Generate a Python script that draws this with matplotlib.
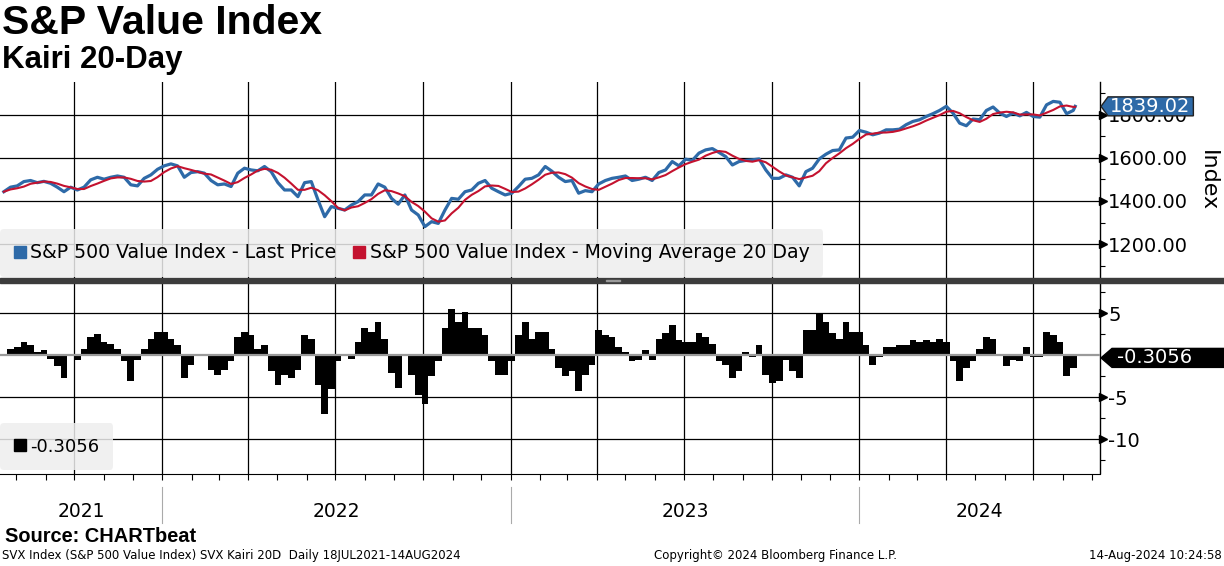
import matplotlib
matplotlib.use("Agg")
import matplotlib.pyplot as plt
import matplotlib.dates as mdates
import matplotlib.transforms as mtransforms
from matplotlib.path import Path
from matplotlib.lines import Line2D
from matplotlib.patches import Rectangle
import pandas as pd

plt.rcParams['font.family'] = 'DejaVu Sans'
plt.rcParams['axes.unicode_minus'] = False

# weekly readings (Mondays from 19 Jul 2021) + last close 14 Aug 2024
price = [1443, 1464, 1470, 1490, 1495, 1485, 1491, 1482, 1464, 1443,
         1464, 1451, 1464, 1498, 1510, 1501, 1510, 1516, 1510, 1475,
         1470, 1505, 1521, 1547, 1563, 1572, 1563, 1510, 1532, 1536,
         1529, 1495, 1475, 1479, 1467, 1529, 1552, 1544, 1540, 1560,
         1536, 1485, 1451, 1451, 1420, 1485, 1490, 1405, 1327, 1374,
         1366, 1358, 1381, 1397, 1428, 1428, 1479, 1464, 1412, 1385,
         1428, 1358, 1335, 1281, 1304, 1296, 1358, 1412, 1408, 1443,
         1451, 1482, 1495, 1459, 1443, 1428, 1436, 1467, 1501, 1505,
         1521, 1560, 1538, 1510, 1490, 1495, 1436, 1448, 1443, 1479,
         1495, 1505, 1510, 1516, 1495, 1501, 1510, 1495, 1532, 1544,
         1583, 1563, 1594, 1588, 1622, 1637, 1643, 1625, 1606, 1567,
         1583, 1588, 1591, 1595, 1544, 1505, 1505, 1521, 1510, 1470,
         1536, 1552, 1595, 1617, 1634, 1637, 1692, 1696, 1727, 1719,
         1707, 1715, 1730, 1730, 1733, 1754, 1769, 1777, 1792, 1805,
         1820, 1839, 1808, 1761, 1749, 1780, 1777, 1820, 1836, 1808,
         1792, 1808, 1795, 1811, 1792, 1789, 1846, 1862, 1858, 1805,
         1820, 1839.02]

kairi = [0.2, 0.8, 1.0, 1.6, 1.2, 0.4, 0.6, -0.4, -1.3, -2.7,
         0.2, -0.5, 0.8, 2.2, 2.5, 1.6, 1.4, 0.8, -0.7, -3.0,
         -0.5, 0.8, 2.0, 2.8, 2.8, 2.0, 1.2, -2.7, -1.1, 0.0,
         0.2, -1.7, -2.3, -1.7, -0.7, 2.2, 2.8, 2.4, 0.8, 1.2,
         -1.9, -3.5, -2.3, -2.7, -1.7, 2.4, 2.0, -3.5, -7.0, -4.0,
         -0.7, 0.0, -0.4, 1.6, 3.2, 2.8, 4.0, 2.0, -2.1, -3.9,
         0.0, -2.3, -4.7, -5.8, -2.5, -0.7, 3.2, 5.5, 4.0, 5.1,
         3.2, 3.2, 2.4, -0.7, -2.3, -2.3, -0.7, 2.4, 4.0, 2.0,
         2.8, 2.8, 0.8, -1.5, -2.5, -1.9, -4.3, -2.3, -1.1, 3.0,
         2.4, 2.2, 1.0, 0.4, -0.7, -0.5, 0.6, -0.5, 2.0, 2.6,
         3.6, 1.8, 1.6, 1.6, 2.6, 2.2, 1.4, -0.7, -1.2, -2.7,
         -1.9, 0.4, -0.2, 1.2, -2.3, -3.3, -3.1, -0.5, -1.9, -2.7,
         3.0, 3.0, 4.9, 4.0, 2.6, 2.0, 4.0, 2.8, 2.8, 1.2,
         -1.1, -0.2, 1.0, 1.0, 1.2, 1.2, 1.8, 1.6, 1.8, 1.6,
         2.0, 1.6, -0.7, -3.1, -1.5, -0.7, 0.8, 2.2, 2.0, 0.2,
         -1.3, -0.5, -0.7, 1.0, -0.2, -0.2, 2.8, 2.4, 1.6, -2.5,
         -1.5, -0.3056]

dates = list(pd.date_range("2021-07-19", periods=161, freq="7D")) + [pd.Timestamp("2024-08-14")]
last_price_text = "1839.02"
last_kairi_text = "-0.3056"
years = [2021, 2022, 2023, 2024]
price_ticks = [1200, 1400, 1600, 1800]
kairi_ticks = [-10, -5, 5]

BLUE = '#2e6aa8'
RED = '#c4122f'

W, H = 1224, 566
fig = plt.figure(figsize=(W / 100, H / 100), dpi=100)


def fy(py):
    return 1 - py / H


ax1 = fig.add_axes([0, fy(279), 1100 / W, (279 - 82) / H])
ax2 = fig.add_axes([0, fy(473.5), 1100 / W, (473.5 - 281) / H])

s = pd.Series(price, index=pd.DatetimeIndex(dates))
ma = s.rolling("28D").mean()

ax1.plot(s.index, s.values, color=BLUE, lw=2.3, zorder=3)
ax1.plot(ma.index, ma.values, color=RED, lw=1.5, zorder=4)

widths = [7] * (len(dates) - 1) + [2]
ax2.bar(dates, kairi, width=widths, color='black', lw=0, zorder=3)
ax2.axhline(0, color='#9a9a9a', lw=1.6, zorder=4)

xlim = (pd.Timestamp("2021-07-15"), pd.Timestamp("2024-09-09"))
for ax in (ax1, ax2):
    ax.set_xlim(*xlim)
    ax.xaxis.set_major_locator(mdates.MonthLocator(bymonth=[1, 4, 7, 10]))
    ax.xaxis.set_minor_locator(mdates.MonthLocator())
    ax.grid(axis='both', which='major', color='black', lw=0.9, zorder=1)
    ax.set_axisbelow(True)
    for sp in ('top', 'left'):
        ax.spines[sp].set_visible(False)
    ax.spines['right'].set_linewidth(1)
    ax.yaxis.tick_right()
    ax.tick_params(axis='y', which='major', length=0, pad=6, labelsize=14)
    ax.tick_params(axis='y', which='minor', length=3.5, width=0.8, direction='out')
    ax.tick_params(axis='x', which='both', labelbottom=False)

ax1.spines['bottom'].set_visible(False)
ax1.tick_params(axis='x', which='both', length=0)
ax2.tick_params(axis='x', which='both', length=4, width=0.8, direction='out')

ax1.set_ylim(1038, 1952)
ax1.set_yticks(price_ticks)
ax1.set_yticklabels(["%.2f" % t for t in price_ticks])
ax1.set_yticks([1100, 1300, 1500, 1700, 1900], minor=True)

ax2.set_ylim(-14.07, 8.85)
ax2.set_yticks(kairi_ticks)
ax2.set_yticklabels([str(t) for t in kairi_ticks])
ax2.set_yticks([-12.5, -7.5, -2.5, 2.5, 7.5], minor=True)

# small arrow heads at labelled ticks
shift = mtransforms.ScaledTranslation(3 / 100, 0, fig.dpi_scale_trans)
ax1.plot([1.0] * len(price_ticks), price_ticks, transform=ax1.get_yaxis_transform() + shift,
         marker='>', ms=6, color='black', ls='none', clip_on=False, zorder=6)
ax2.plot([1.0] * len(kairi_ticks), kairi_ticks, transform=ax2.get_yaxis_transform() + shift,
         marker='>', ms=6, color='black', ls='none', clip_on=False, zorder=6)

fig.text(1208 / W, fy(181), "Index", rotation=270, ha='center', va='center', fontsize=16)

# legends
h1 = [Line2D([], [], marker='s', ls='none', color=BLUE, ms=9),
      Line2D([], [], marker='s', ls='none', color=RED, ms=9)]
leg = ax1.legend(h1, ["S&P 500 Value Index - Last Price",
                      "S&P 500 Value Index - Moving Average 20 Day"],
                 loc='lower left', bbox_to_anchor=(0, 0.012), ncol=2, frameon=True,
                 fancybox=True, facecolor='#eeeeee', edgecolor='none', framealpha=0.85,
                 fontsize=13.6, handlelength=0.6, handletextpad=0.25, columnspacing=0.9,
                 borderpad=0.75, borderaxespad=0)
leg.set_zorder(7)

h2 = [Line2D([], [], marker='s', ls='none', color='black', ms=9)]
leg2 = ax2.legend(h2, [last_kairi_text], loc='lower left', bbox_to_anchor=(0, 0.018),
                  frameon=True, fancybox=True, facecolor='#eeeeee', edgecolor='none',
                  framealpha=0.85, fontsize=13, handlelength=0.6, handletextpad=0.25,
                  borderpad=0.8, borderaxespad=0)
leg2.set_zorder(7)


def make_tag(tip, lpad, rpad, vpad):
    def style(x0, y0, width, height, mutation_size):
        left = x0 - lpad
        right = x0 + width + rpad
        bot = y0 - vpad
        top = y0 + height + vpad
        mid = (bot + top) / 2
        verts = [(left - tip, mid), (left, bot), (right, bot), (right, top),
                 (left, top), (left - tip, mid)]
        return Path(verts, closed=True)
    return style


def tag(ax, value, text, face, edge, tip, lpad, rpad, vpad=0):
    off = (tip + lpad + 1) * 0.72
    ax.annotate(text, xy=(1, value), xycoords=ax.get_yaxis_transform(),
                xytext=(off, 0), textcoords='offset points', ha='left', va='center',
                color='white', fontsize=14, annotation_clip=False, zorder=10,
                bbox=dict(boxstyle=make_tag(tip, lpad, rpad, vpad), fc=face, ec=edge, lw=1))


tag(ax1, price[-1], last_price_text, BLUE, '#222222', 7, 2, 3)
tag(ax2, kairi[-1], last_kairi_text, 'black', 'black', 11, 5, 45)

# divider between panels
fig.patches.append(Rectangle((0, fy(282.5)), 1, 5 / H, transform=fig.transFigure,
                             color='#3c3c3c', zorder=8))
fig.patches.append(Rectangle((606 / W, fy(280.5)), 14 / W, 1 / H, transform=fig.transFigure,
                             color='#9a9a9a', zorder=9))

# year labels and separators below bottom panel
trans = mtransforms.blended_transform_factory(ax2.transData, ax2.transAxes)
lo, hi = mdates.date2num(xlim[0]), mdates.date2num(xlim[1])
for yr in years:
    a = max(mdates.date2num(pd.Timestamp(f"{yr}-01-01")), lo)
    b = min(mdates.date2num(pd.Timestamp(f"{yr + 1}-01-01")), hi)
    ax2.text((a + b) / 2, -0.195, str(yr), transform=trans, ha='center', va='center',
             fontsize=13.5)
    if yr > years[0]:
        ax2.plot([a, a], [-0.07, -0.257], transform=trans, color='#aaaaaa', lw=0.8,
                 clip_on=False)

# titles and footer
fig.text(2 / W, fy(23), "S&P Value Index", fontfamily='Liberation Sans', fontweight='bold',
         fontsize=29.5, va='center', ha='left')
fig.text(2 / W, fy(60), "Kairi 20-Day", fontfamily='Liberation Sans', fontweight='bold',
         fontsize=22.5, va='center', ha='left')
fig.text(5 / W, fy(537), "Source: CHARTbeat", fontfamily='Liberation Sans', fontweight='bold',
         fontsize=14.4, va='center', ha='left')
fig.text(2 / W, fy(556), "SVX Index (S&P 500 Value Index) SVX Kairi 20D  Daily 18JUL2021-14AUG2024",
         fontsize=8.5, va='center', ha='left')
fig.text(776 / W, fy(556), "Copyright\u00a9 2024 Bloomberg Finance L.P.", fontsize=8.5,
         va='center', ha='center')
fig.text(1222 / W, fy(556), "14-Aug-2024 10:24:58", fontsize=8.5, va='center', ha='right')

fig.savefig("out.png", dpi=100)
